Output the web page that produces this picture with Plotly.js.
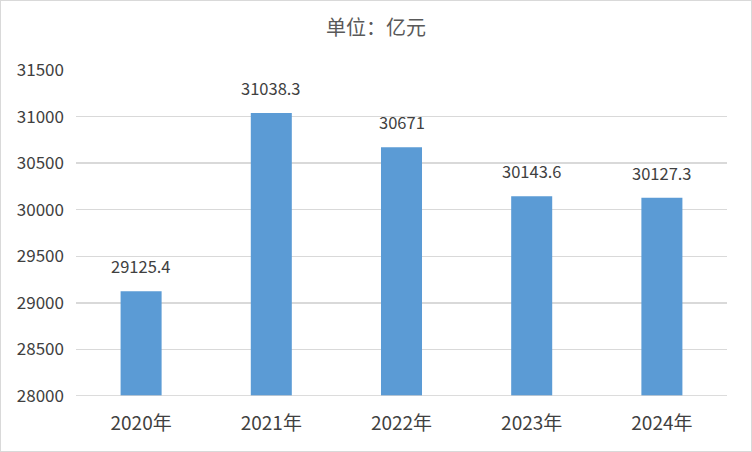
<!DOCTYPE html>
<html>
<head>
<meta charset="utf-8">
<script src="https://cdn.plot.ly/plotly-3.0.1.min.js"></script>
<style>
html,body{margin:0;padding:0;background:#fff;}
#chart{width:750px;height:450px;border:1px solid #d9d9d9;}
</style>
</head>
<body>
<div id="chart"></div>
<script>
const categories = ["2020年", "2021年", "2022年", "2023年", "2024年"];
const values = [29125.4, 31038.3, 30671, 30143.6, 30127.3];
const valueLabels = ["29125.4", "31038.3", "30671", "30143.6", "30127.3"];
const tickVals = [28000, 28500, 29000, 29500, 30000, 30500, 31000, 31500];
const titleText = "单位：亿元";

const FONT = '"Noto Sans CJK SC", "Noto Sans", sans-serif';

const trace = {
  type: 'bar',
  x: categories,
  y: values,
  marker: {color: '#5b9bd5'},
  hoverinfo: 'skip'
};

const annotations = categories.map((c, i) => ({
  x: c, y: values[i], xref: 'x', yref: 'y',
  text: valueLabels[i], showarrow: false,
  yanchor: 'bottom', yshift: 11,
  font: {family: FONT, size: 16.5, color: '#404040'}
}));

const layout = {
  width: 750, height: 450,
  margin: {l: 75, r: 24, t: 69, b: 55},
  paper_bgcolor: '#fff', plot_bgcolor: '#fff',
  bargap: 0.685,
  showlegend: false,
  title: {text: titleText, x: 0.5, xanchor: 'center', y: 0.94, yanchor: 'middle',
          font: {family: FONT, size: 20, color: '#595959'}},
  xaxis: {
    type: 'category',
    showgrid: false, showline: false, zeroline: false,
    ticks: '', tickfont: {family: FONT, size: 19, color: '#404040'},
    ticklabelstandoff: 14
  },
  yaxis: {
    range: [28000, 31500],
    tickvals: tickVals,
    ticktext: tickVals.map(String),
    showgrid: true, gridcolor: '#d9d9d9', gridwidth: 1.5,
    zeroline: false, showline: false, ticks: '',
    tickfont: {family: FONT, size: 17, color: '#404040'},
    ticklabelstandoff: 11
  },
  shapes: [{type: 'line', xref: 'paper', yref: 'y', x0: 0, x1: 1, y0: 28000, y1: 28000,
            line: {color: '#d0d0d0', width: 1.5}}],
  annotations: annotations
};

Plotly.newPlot('chart', [trace], layout, {displayModeBar: false, staticPlot: true});
</script>
</body>
</html>
